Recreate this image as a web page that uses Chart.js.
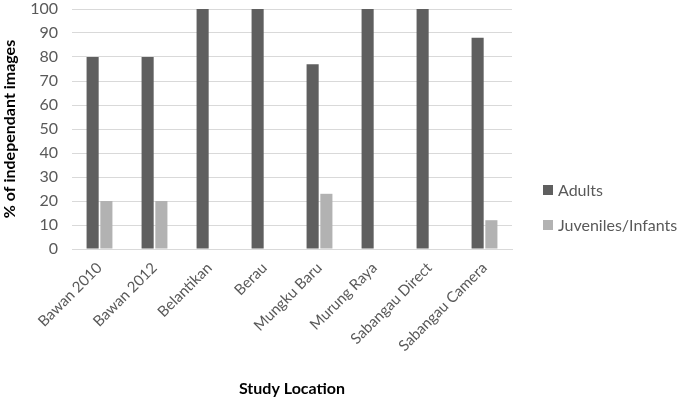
<!DOCTYPE html>
<html>
<head>
<meta charset="utf-8">
<script src="https://cdn.jsdelivr.net/npm/chart.js@4"></script>
<style>
html,body{margin:0;padding:0;background:#fff;}
#wrap{width:685px;height:402px;position:relative;}
</style>
</head>
<body>
<div id="wrap"><canvas id="c" width="685" height="402"></canvas></div>
<script>
const categories = ["Bawan 2010","Bawan 2012","Belantikan","Berau","Mungku Baru","Murung Raya","Sabangau Direct","Sabangau Camera"];
const adults = [80, 80, 100, 100, 77, 100, 100, 88];
const juveniles = [20, 20, 0, 0, 23, 0, 0, 12];
const yTicks = [0,10,20,30,40,50,60,70,80,90,100];
const seriesNames = ["Adults","Juveniles/Infants"];
const colors = ["#5f5f5f","#b2b2b2"];
const FONT = "Lato";

const legendPlugin = {
  id: 'customLegend',
  afterDraw(chart) {
    const ctx = chart.ctx;
    const x0 = chart.chartArea.right + 31;
    const ys = [190, 225];
    ctx.save();
    ctx.font = "16px " + FONT;
    ctx.textBaseline = "middle";
    ctx.textAlign = "left";
    chart.data.datasets.forEach((ds, i) => {
      ctx.fillStyle = ds.backgroundColor;
      ctx.fillRect(x0, ys[i] - 5, 10, 10);
      ctx.fillStyle = "#595959";
      ctx.fillText(ds.label, x0 + 15, ys[i] + 1);
    });
    ctx.restore();
  }
};

new Chart(document.getElementById('c'), {
  type: 'bar',
  data: {
    labels: categories,
    datasets: [
      {label: seriesNames[0], data: adults, backgroundColor: colors[0], categoryPercentage: 0.5, barPercentage: 0.88},
      {label: seriesNames[1], data: juveniles, backgroundColor: colors[1], categoryPercentage: 0.5, barPercentage: 0.88}
    ]
  },
  options: {
    responsive: false,
    animation: false,
    layout: {padding: {top: 9, right: 173, left: 0, bottom: 0}},
    plugins: {legend: {display: false}, tooltip: {enabled: false}},
    scales: {
      x: {
        grid: {display: false, drawTicks: false},
        border: {display: true, color: "#d9d9d9", width: 1},
        ticks: {color: "#595959", font: {family: FONT, size: 15}, maxRotation: 45, minRotation: 45, autoSkip: false, padding: 10},
        title: {display: true, text: "Study Location", color: "#000", font: {family: FONT, size: 16, weight: "bold"}, padding: {top: 0, bottom: 4}},
        afterFit(scale) { scale.height = 153; scale.paddingLeft = 0; scale.paddingRight = 0; }
      },
      y: {
        min: 0, max: 100,
        afterBuildTicks(scale) { scale.ticks = yTicks.map(v => ({value: v})); },
        grid: {color: "#d9d9d9", drawTicks: false},
        border: {display: false},
        ticks: {color: "#595959", font: {family: FONT, size: 16}, padding: 14},
        title: {display: true, text: "% of independant images", color: "#000", font: {family: FONT, size: 16, weight: "bold"}, padding: {top: 0, bottom: 4}},
        afterFit(scale) { scale.width = 72; scale.paddingTop = 0; scale.paddingBottom = 0; }
      }
    }
  },
  plugins: [legendPlugin]
});
</script>
</body>
</html>
